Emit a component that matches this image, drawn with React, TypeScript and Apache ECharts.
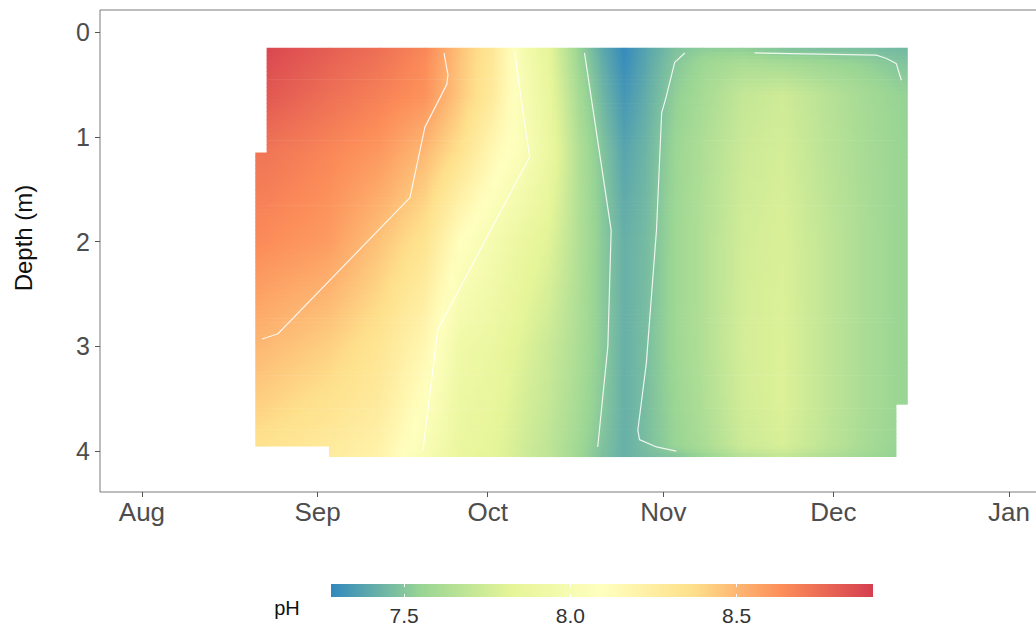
import React, { useEffect, useRef } from "react";
import * as echarts from "echarts";

// Sampling dates of the depth profiles
const SAMPLE_DATES = [
  "2019-08-21", "2019-08-23", "2019-09-03", "2019-09-12", "2019-09-20",
  "2019-09-26", "2019-10-02", "2019-10-07", "2019-10-12", "2019-10-17",
  "2019-10-21", "2019-10-25", "2019-10-29", "2019-11-03", "2019-11-08",
  "2019-11-15", "2019-11-22", "2019-11-29", "2019-12-06", "2019-12-12",
  "2019-12-14",
];

// Depths (m) of each profile level
const DEPTHS = [0.15, 0.3, 0.6, 1.15, 2.0, 3.0, 3.55, 3.95, 4.05];

// pH per profile (one row per sampling date, one value per depth; null = no sample)
const PH_PROFILES: (number | null)[][] = [
  [null, null, null, 8.72, 8.65, 8.5, 8.42, 8.35, null],
  [8.88, 8.86, 8.82, 8.72, 8.64, 8.49, 8.41, 8.34, null],
  [8.8, 8.78, 8.74, 8.66, 8.59, 8.42, 8.34, 8.28, 8.27],
  [8.74, 8.72, 8.68, 8.6, 8.46, 8.32, 8.27, 8.21, 8.2],
  [8.66, 8.64, 8.62, 8.49, 8.33, 8.16, 8.08, 8.02, 8.0],
  [8.47, 8.46, 8.45, 8.35, 8.1, 7.93, 7.9, 7.88, 7.87],
  [8.3, 8.29, 8.27, 8.15, 7.98, 7.88, 7.85, 7.83, 7.82],
  [7.99, 8.0, 8.02, 8.04, 7.88, 7.8, 7.77, 7.75, 7.75],
  [7.82, 7.83, 7.85, 7.88, 7.8, 7.72, 7.7, 7.68, 7.68],
  [7.55, 7.57, 7.6, 7.64, 7.64, 7.62, 7.6, 7.58, 7.57],
  [7.4, 7.42, 7.45, 7.5, 7.52, 7.52, 7.51, 7.49, 7.48],
  [7.29, 7.3, 7.33, 7.38, 7.42, 7.42, 7.42, 7.42, 7.42],
  [7.38, 7.39, 7.41, 7.44, 7.46, 7.47, 7.47, 7.47, 7.46],
  [7.48, 7.5, 7.53, 7.56, 7.57, 7.57, 7.56, 7.55, 7.49],
  [7.52, 7.57, 7.6, 7.63, 7.64, 7.64, 7.63, 7.61, 7.55],
  [7.52, 7.62, 7.7, 7.73, 7.75, 7.76, 7.75, 7.73, 7.66],
  [7.48, 7.6, 7.74, 7.76, 7.78, 7.79, 7.79, 7.77, 7.7],
  [7.47, 7.57, 7.67, 7.68, 7.7, 7.7, 7.7, 7.69, 7.64],
  [7.47, 7.54, 7.6, 7.61, 7.62, 7.62, 7.62, 7.61, 7.58],
  [7.45, 7.5, 7.55, 7.56, 7.56, 7.56, 7.56, 7.55, 7.54],
  [7.45, 7.49, 7.54, 7.55, 7.55, 7.55, 7.55, null, null],
];

// Contour lines [date, depth]
const CONTOUR_8_5: [string, number][] = [
  ["2019-08-22T05:00Z", 2.93], ["2019-08-25T00:00Z", 2.88], ["2019-09-17T07:00Z", 1.58],
  ["2019-09-19T22:00Z", 0.91], ["2019-09-23T19:00Z", 0.5], ["2019-09-24T00:00Z", 0.41],
  ["2019-09-23T07:00Z", 0.2],
];
const CONTOUR_8_0: [string, number][] = [
  ["2019-10-05T19:00Z", 0.19], ["2019-10-06T22:00Z", 0.65], ["2019-10-08T10:00Z", 1.19],
  ["2019-09-22T05:00Z", 2.84], ["2019-09-19T14:00Z", 3.99],
];
const CONTOUR_7_5_WEST: [string, number][] = [
  ["2019-10-18T02:00Z", 0.2], ["2019-10-22T19:00Z", 1.89], ["2019-10-22T05:00Z", 3.0],
  ["2019-10-20T10:00Z", 3.96],
];
const CONTOUR_7_5_EAST: [string, number][] = [
  ["2019-11-04T19:00Z", 0.2], ["2019-11-03T00:00Z", 0.29], ["2019-11-01T12:00Z", 0.62],
  ["2019-10-31T17:00Z", 0.77], ["2019-10-30T19:00Z", 1.89], ["2019-10-29T00:00Z", 3.16],
  ["2019-10-27T12:00Z", 3.8], ["2019-10-27T19:00Z", 3.89], ["2019-10-30T19:00Z", 3.96],
  ["2019-11-03T07:00Z", 4.0],
];
const CONTOUR_7_5_SURFACE: [string, number][] = [
  ["2019-11-17T02:00Z", 0.2], ["2019-12-08T14:00Z", 0.22], ["2019-12-10T07:00Z", 0.25],
  ["2019-12-12T02:00Z", 0.3], ["2019-12-13T00:00Z", 0.46],
];

// Axis ticks
const MONTH_TICKS = ["2019-08-01", "2019-09-01", "2019-10-01", "2019-11-01", "2019-12-01", "2020-01-01"];
const MONTH_LABELS = ["Aug", "Sep", "Oct", "Nov", "Dec", "Jan"];
const DEPTH_TICKS = [0, 1, 2, 3, 4];
const LEGEND_TICKS = [7.5, 8.0, 8.5];

// Colour scale (Spectral, low pH blue -> high pH red)
const PH_MIN = 7.28;
const PH_MAX = 8.91;
const SPECTRAL = ["#3288BD", "#99D594", "#E6F598", "#FFFFBF", "#FEE08B", "#FC8D59", "#D53E4F"];

const ORIGIN = Date.parse("2019-08-01T00:00:00Z");
const toDay = (s: string) => (Date.parse(s.length === 10 ? s + "T00:00:00Z" : s) - ORIGIN) / 86400000;

const FONT = "'Liberation Sans', Arial, Helvetica, sans-serif";

function phColor(v: number): string {
  const t = Math.min(1, Math.max(0, (v - PH_MIN) / (PH_MAX - PH_MIN)));
  return echarts.color.lerp(t, SPECTRAL) as string;
}

type Cell = { x0: number; x1: number; y0: number; y1: number; v00: number; v10: number; v01: number; v11: number };

function buildCells(): Cell[] {
  const cells: Cell[] = [];
  const days = SAMPLE_DATES.map(toDay);
  for (let i = 0; i < days.length - 1; i++) {
    for (let j = 0; j < DEPTHS.length - 1; j++) {
      const v00 = PH_PROFILES[i][j];
      const v10 = PH_PROFILES[i + 1][j];
      const v01 = PH_PROFILES[i][j + 1];
      const v11 = PH_PROFILES[i + 1][j + 1];
      if (v00 == null || v10 == null || v01 == null || v11 == null) continue;
      cells.push({ x0: days[i], x1: days[i + 1], y0: DEPTHS[j], y1: DEPTHS[j + 1], v00, v10, v01, v11 });
    }
  }
  return cells;
}

export default function App() {
  const ref = useRef<HTMLDivElement>(null);

  useEffect(() => {
    if (!ref.current) return;
    const chart = echarts.init(ref.current, undefined, { renderer: "svg" });
    const cells = buildCells();
    const monthDays = MONTH_TICKS.map(toDay);
    const contourStyle = { color: "rgba(255,255,255,0.85)", width: 1.2 };
    const contours = [CONTOUR_8_5, CONTOUR_8_0, CONTOUR_7_5_WEST, CONTOUR_7_5_EAST, CONTOUR_7_5_SURFACE];

    const option: any = {
      animation: false,
      backgroundColor: "#ffffff",
      grid: [
        { left: 100, top: 10, width: 951, height: 482, show: true, borderColor: "#7a7a7a", borderWidth: 1, backgroundColor: "transparent" },
        { left: 331, top: 584, width: 542, height: 13, show: false },
      ],
      xAxis: [
        {
          gridIndex: 0,
          type: "value",
          min: -7.4,
          max: 160.4,
          axisLine: { show: false, onZero: false },
          splitLine: { show: false },
          axisTick: { show: true, customValues: monthDays, length: 5, lineStyle: { color: "#555" } },
          axisLabel: {
            customValues: monthDays,
            formatter: (v: number) => {
              const k = monthDays.findIndex((d) => Math.abs(d - v) < 0.01);
              return k >= 0 ? MONTH_LABELS[k] : "";
            },
            fontSize: 26,
            fontFamily: FONT,
            color: "#4d4d4d",
            margin: 7,
          },
        },
        {
          gridIndex: 1,
          type: "value",
          min: PH_MIN,
          max: PH_MAX,
          z: 10,
          axisLine: { show: false, onZero: false },
          splitLine: { show: false },
          axisTick: { show: true, customValues: LEGEND_TICKS, inside: true, length: 3, lineStyle: { color: "#ffffff", width: 1 } },
          axisLabel: {
            customValues: LEGEND_TICKS,
            formatter: (v: number) => v.toFixed(1),
            fontSize: 21,
            fontFamily: FONT,
            color: "#333",
            margin: 8,
          },
        },
        {
          gridIndex: 1,
          type: "value",
          position: "top",
          min: PH_MIN,
          max: PH_MAX,
          z: 10,
          axisLine: { show: false, onZero: false },
          splitLine: { show: false },
          axisLabel: { show: false },
          axisTick: { show: true, customValues: LEGEND_TICKS, inside: true, length: 3, lineStyle: { color: "#ffffff", width: 1 } },
        },
      ],
      yAxis: [
        {
          gridIndex: 0,
          type: "value",
          inverse: true,
          min: -0.21,
          max: 4.39,
          axisLine: { show: false, onZero: false },
          splitLine: { show: false },
          axisTick: { show: true, customValues: DEPTH_TICKS, length: 5, lineStyle: { color: "#555" } },
          axisLabel: {
            customValues: DEPTH_TICKS,
            fontSize: 25,
            fontFamily: FONT,
            color: "#4d4d4d",
            margin: 10,
          },
        },
        { gridIndex: 1, type: "value", min: 0, max: 1, show: false },
      ],
      graphic: [
        {
          type: "text",
          x: 23,
          y: 238,
          rotation: Math.PI / 2,
          style: { text: "Depth (m)", fontSize: 24, fontFamily: FONT, fill: "#111", align: "center", verticalAlign: "middle" },
        },
        {
          type: "text",
          x: 287,
          y: 608,
          style: { text: "pH", fontSize: 20, fontFamily: FONT, fill: "#111", align: "center", verticalAlign: "middle" },
        },
      ],
      series: [
        {
          type: "custom",
          xAxisIndex: 0,
          yAxisIndex: 0,
          silent: true,
          z: 1,
          data: cells.map((c) => [c.x0, c.x1, c.y0, c.y1]),
          encode: { x: [0, 1], y: [2, 3] },
          renderItem: (params: any, api: any) => {
            const c = cells[params.dataIndex];
            const a = api.coord([c.x0, c.y0]);
            const b = api.coord([c.x1, c.y1]);
            const left = Math.min(a[0], b[0]);
            const right = Math.max(a[0], b[0]);
            const top = Math.min(a[1], b[1]);
            const bottom = Math.max(a[1], b[1]);
            const n = Math.max(1, Math.round((bottom - top) / 4));
            const h = (bottom - top) / n;
            const children: any[] = [];
            for (let k = 0; k < n; k++) {
              const f = (k + 0.5) / n;
              const vl = c.v00 + (c.v01 - c.v00) * f;
              const vr = c.v10 + (c.v11 - c.v10) * f;
              const stops = [0, 0.25, 0.5, 0.75, 1].map((s) => ({ offset: s, color: phColor(vl + (vr - vl) * s) }));
              children.push({
                type: "rect",
                shape: { x: left, y: top + k * h, width: right - left + 0.7, height: h + 0.7 },
                style: { fill: new echarts.graphic.LinearGradient(0, 0, 1, 0, stops) },
              });
            }
            return { type: "group", children };
          },
        },
        ...contours.map((pts) => ({
          type: "line",
          xAxisIndex: 0,
          yAxisIndex: 0,
          silent: true,
          z: 3,
          symbol: "none",
          showSymbol: false,
          lineStyle: contourStyle,
          data: pts.map(([d, z]) => [toDay(d), z]),
        })),
        {
          type: "custom",
          xAxisIndex: 1,
          yAxisIndex: 1,
          silent: true,
          z: 1,
          data: [[PH_MIN, PH_MAX]],
          renderItem: (_params: any, api: any) => {
            const a = api.coord([PH_MIN, 0]);
            const b = api.coord([PH_MAX, 1]);
            const stops = SPECTRAL.map((col, i) => ({ offset: i / (SPECTRAL.length - 1), color: col }));
            return {
              type: "rect",
              shape: { x: Math.min(a[0], b[0]), y: Math.min(a[1], b[1]), width: Math.abs(b[0] - a[0]), height: Math.abs(b[1] - a[1]) },
              style: { fill: new echarts.graphic.LinearGradient(0, 0, 1, 0, stops) },
            };
          },
        },
      ],
    };

    chart.setOption(option);
    return () => chart.dispose();
  }, []);

  // The plotting panel runs past the right edge of the 1036px frame, so the
  // chart surface is wider and the frame clips it.
  return (
    <div style={{ position: "absolute", left: 0, top: 0, width: 1036, height: 626, overflow: "hidden", background: "#fff" }}>
      <div ref={ref} style={{ width: 1060, height: 626 }} />
    </div>
  );
}
